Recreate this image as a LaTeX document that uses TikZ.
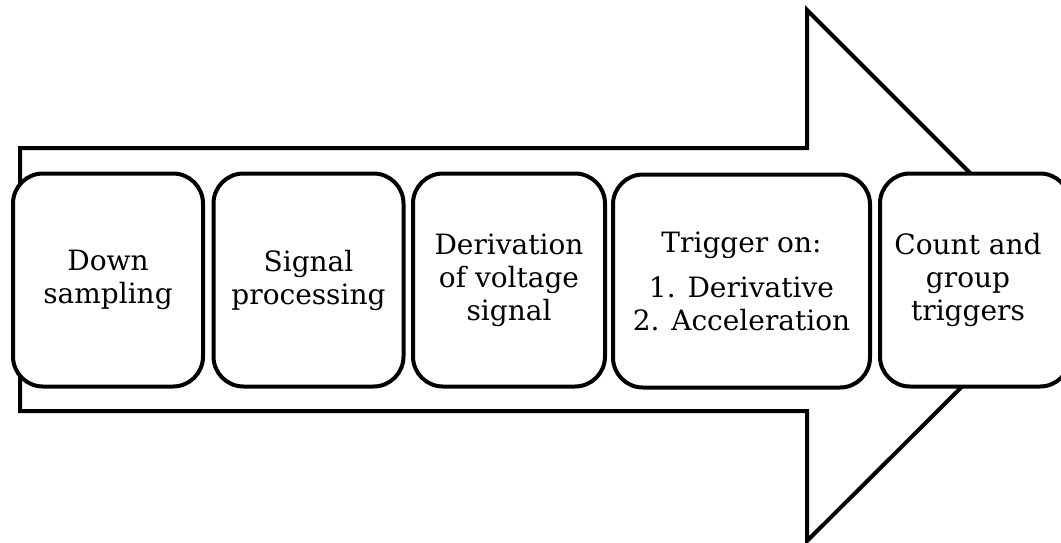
\documentclass[tikz,border=0pt]{standalone}
\usepackage{fontspec}
\setmainfont{DejaVu Serif}
\begin{document}
\begin{tikzpicture}[x=1pt,y=-1pt,
  outline/.style={draw=black,line width=4pt,fill=white,line join=miter},
  stage/.style={draw=black,line width=4pt,fill=white,rounded corners=30pt,
    minimum height=213pt,inner sep=0pt,align=center,
    font=\fontsize{28}{33}\selectfont}]
\useasboundingbox (0,0) rectangle (1061,542);
\clip (0,0) rectangle (1061,542);
\draw[outline] (20,148) -- (807,148) -- (807,10) -- (1073,276) -- (807,541) -- (807,411) -- (20,411) -- cycle;
\node[stage,minimum width=190pt] (a) at (108,280) {Down\\sampling};
\node[stage,minimum width=190pt] (b) at (308.5,280) {Signal\\processing};
\node[stage,minimum width=192pt] (c) at (509,280) {Derivation\\of voltage\\signal};
\node[stage,minimum width=257pt] (d) at (741.5,281) {Trigger on:\\[12pt]1. Derivative\\2. Acceleration};
\node[stage,minimum width=190pt] (e) at (975,280) {};
\node[font=\fontsize{28}{33}\selectfont,align=center] (et) at (968,280) {Count and\\group\\triggers};
\end{tikzpicture}
\end{document}
